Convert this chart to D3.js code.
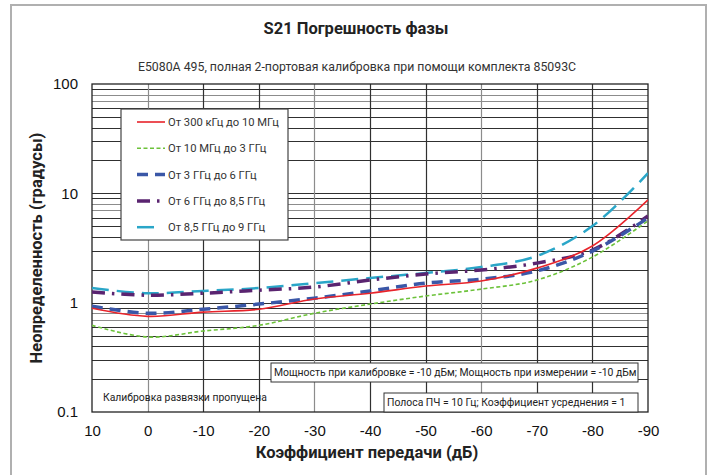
<!DOCTYPE html>
<html><head><meta charset="utf-8">
<script src="https://cdn.jsdelivr.net/npm/d3@7"></script>
<style>
html,body{margin:0;padding:0;background:#fff;}
svg{display:block;}
</style>
</head><body>
<svg id="chart" width="708" height="475"></svg>
<script>
// ---- data ----
const xTicks = [10, 0, -10, -20, -30, -40, -50, -60, -70, -80, -90];
const yTickLabels = ["0.1", "1", "10", "100"];
const yTickValues = [0.1, 1, 10, 100];
const seriesNames = ["От 300 кГц до 10 МГц", "От 10 МГц до 3 ГГц", "От 3 ГГц до 6 ГГц", "От 6 ГГц до 8,5 ГГц", "От 8,5 ГГц до 9 ГГц"];
const gain = [10, 0, -10, -20, -30, -40, -50, -60, -70, -80, -90];
const s300k_10M = [0.89, 0.75, 0.82, 0.87, 1.08, 1.22, 1.42, 1.58, 2.07, 3.3, 8.7];
const s10M_3G   = [0.62, 0.485, 0.55, 0.62, 0.80, 0.97, 1.15, 1.33, 1.61, 2.61, 5.6];
const s3G_6G    = [0.93, 0.80, 0.87, 0.97, 1.10, 1.28, 1.51, 1.64, 1.95, 2.96, 5.95];
const s6G_85G   = [1.25, 1.17, 1.22, 1.30, 1.39, 1.61, 1.83, 1.99, 2.30, 3.03, 6.2];
const s85G_9G   = [1.36, 1.22, 1.28, 1.36, 1.51, 1.68, 1.87, 2.12, 2.67, 5.02, 15.3];
const title = "S21 Погрешность фазы";
const subtitle = "E5080A 495, полная 2-портовая калибровка при помощи комплекта 85093C";
const xTitle = "Коэффициент передачи (дБ)";
const yTitle = "Неопределенность (градусы)";
const note1 = "Мощность при калибровке = -10 дБм; Мощность при измерении = -10 дБм";
const note2 = "Полоса ПЧ = 10 Гц; Коэффициент усреднения = 1";
const note3 = "Калибровка развязки пропущена";

// ---- styles ----
const styles = [
  {color:"#e8242b", width:1.6, dash:null},
  {color:"#6cc23a", width:1.6, dash:"4,2.5"},
  {color:"#3a57a7", width:3.5, dash:"11,7"},
  {color:"#5a2470", width:3.5, dash:"13,7,2.5,7"},
  {color:"#2aa6c8", width:2.5, dash:"17,8"}
];
const allSeries = [s300k_10M, s10M_3G, s3G_6G, s6G_85G, s85G_9G];

const svg = d3.select("#chart");
const L = 92, R = 648, T = 84, B = 412;
const x = d3.scaleLinear().domain([10, -90]).range([L, R]);
const y = d3.scaleLog().domain([0.1, 100]).range([B, T]);

// outer frame
svg.append("rect").attr("x", 11).attr("y", 5).attr("width", 695).attr("height", 480)
  .attr("fill", "none").attr("stroke", "#b0b0b0").attr("stroke-width", 2);

// title
svg.append("text").attr("x", 356).attr("y", 34).attr("text-anchor", "middle")
  .attr("font-family", "Roboto, sans-serif").attr("font-weight", 700).attr("font-size", 16.5)
  .attr("fill", "#222").text(title);
svg.append("text").attr("x", 357).attr("y", 71).attr("text-anchor", "middle")
  .attr("font-family", "Roboto, sans-serif").attr("font-size", 12.3)
  .attr("fill", "#333").text(subtitle);

// horizontal grid (log minor ticks)
const grid = svg.append("g");
const hVals = [];
for (let d = 0.1; d < 100; d *= 10) {
  for (let m = 1; m <= 9; m++) hVals.push({v: +(d * m).toPrecision(3), m});
}
grid.selectAll("line.h").data(hVals.filter(o => o.v > 0.1)).join("line")
  .attr("x1", L).attr("x2", R)
  .attr("y1", o => Math.round(y(o.v)) + 0.5).attr("y2", o => Math.round(y(o.v)) + 0.5)
  .attr("stroke", o => (o.m === 7 || o.m === 8) ? "#8c8c8c" : "#303030")
  .attr("stroke-width", 1.2);
// vertical grid
grid.selectAll("line.v").data(xTicks.slice(1, -1)).join("line")
  .attr("y1", T).attr("y2", B)
  .attr("x1", d => Math.round(x(d)) + 0.5).attr("x2", d => Math.round(x(d)) + 0.5)
  .attr("stroke", (d, i) => (i % 3 === 0) ? "#8c8c8c" : "#303030")
  .attr("stroke-width", 1.2);
// plot frame
svg.append("rect").attr("x", L).attr("y", T).attr("width", R - L).attr("height", B - T)
  .attr("fill", "none").attr("stroke", "#222").attr("stroke-width", 1.3);

// axes
const xAxis = d3.axisBottom(x).tickValues(xTicks).tickSize(0).tickPadding(13).tickFormat(d => String(d));
const gx = svg.append("g").attr("transform", `translate(0,${B})`).call(xAxis);
gx.select(".domain").remove();
gx.selectAll("text").attr("font-family", "'Liberation Sans', Arial, sans-serif").attr("font-size", 15).attr("fill", "#111");

const yAxis = d3.axisLeft(y).tickValues(yTickValues).tickSize(0).tickPadding(14)
  .tickFormat((d, i) => yTickLabels[i]);
const gy = svg.append("g").attr("transform", `translate(${L},0)`).call(yAxis);
gy.select(".domain").remove();
gy.selectAll("text").attr("font-family", "'Liberation Sans', Arial, sans-serif").attr("font-size", 15).attr("fill", "#111");

svg.append("text").attr("x", 367).attr("y", 458).attr("text-anchor", "middle")
  .attr("font-family", "Roboto, sans-serif").attr("font-weight", 700).attr("font-size", 16.5)
  .attr("fill", "#222").text(xTitle);
svg.append("text").attr("transform", "translate(42,248) rotate(-90)").attr("text-anchor", "middle")
  .attr("font-family", "Roboto, sans-serif").attr("font-weight", 700).attr("font-size", 16.5)
  .attr("fill", "#222").text(yTitle);

// notes
function noteBox(x0, y0, w, h, t) {
  svg.append("rect").attr("x", x0).attr("y", y0).attr("width", w).attr("height", h)
    .attr("fill", "#fff").attr("stroke", "#333").attr("stroke-width", 1);
  svg.append("text").attr("x", x0 + 3).attr("y", y0 + h / 2 + 3.7)
    .attr("font-family", "Roboto, sans-serif").attr("font-size", 10.4).attr("fill", "#222").text(t);
}
noteBox(271, 363, 367, 19, note1);
noteBox(384, 393, 254, 19, note2);
svg.append("text").attr("x", 103).attr("y", 401)
  .attr("font-family", "Roboto, sans-serif").attr("font-size", 10.4).attr("fill", "#222").text(note3);

// series
const line = d3.line().x((d, i) => x(gain[i])).y(d => y(d)).curve(d3.curveCatmullRom.alpha(0.5));
svg.append("clipPath").attr("id", "pc").append("rect")
  .attr("x", L).attr("y", T).attr("width", R - L).attr("height", B - T);
const lg = svg.append("g").attr("clip-path", "url(#pc)");
[4, 3, 2, 1, 0].forEach(i => {
  lg.append("path").datum(allSeries[i]).attr("d", line)
    .attr("fill", "none").attr("stroke", styles[i].color).attr("stroke-width", styles[i].width)
    .attr("stroke-dasharray", styles[i].dash);
});

// legend
const lgx = 121, lgy = 109;
svg.append("rect").attr("x", lgx).attr("y", lgy).attr("width", 167).attr("height", 131)
  .attr("fill", "#fff").attr("stroke", "#444").attr("stroke-width", 1.2);
seriesNames.forEach((n, i) => {
  const yy = lgy + 13 + i * 26.3;
  const len = i === 4 ? 19 : 28;
  svg.append("line").attr("x1", 137).attr("x2", 137 + len).attr("y1", yy).attr("y2", yy)
    .attr("stroke", styles[i].color).attr("stroke-width", styles[i].width)
    .attr("stroke-dasharray", styles[i].dash);
  svg.append("text").attr("x", 168).attr("y", yy + 4)
    .attr("font-family", "Roboto, sans-serif").attr("font-size", 11.2).attr("fill", "#333").text(n);
});
</script>
</body></html>
